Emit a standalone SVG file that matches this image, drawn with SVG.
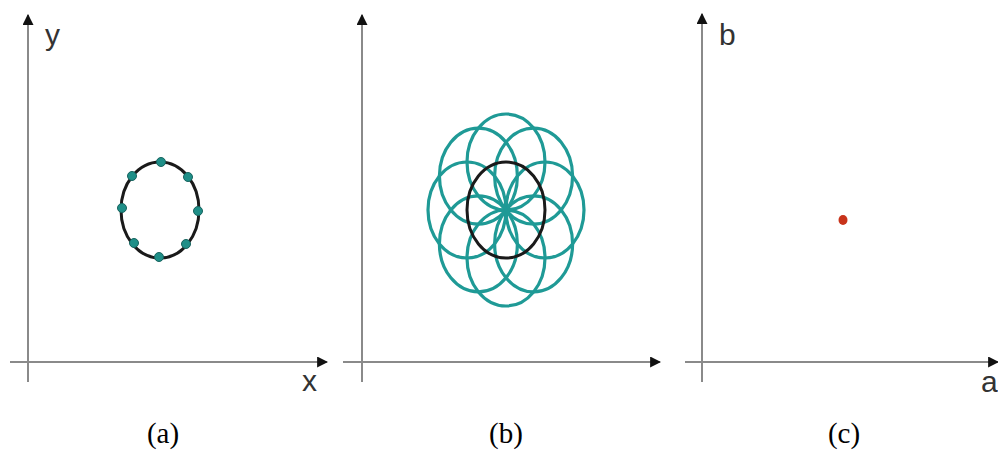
<svg xmlns="http://www.w3.org/2000/svg" width="998" height="465" viewBox="0 0 998 465">
  <style>
    .axis { stroke: #8a8a8a; stroke-width: 2; fill: none; }
    .lbl { font-family: "Liberation Sans", Arial, sans-serif; font-size: 30px; fill: #333; }
    .cap { font-family: "Liberation Serif", "Times New Roman", serif; font-size: 29px; fill: #000; text-anchor: middle; }
    .teal { stroke: #1f9a96; stroke-width: 3.2; fill: none; }
    .blk { stroke: #1a1a1a; stroke-width: 3; fill: none; }
    .dot { fill: #1f8f88; stroke: #17635e; stroke-width: 1; }
  </style>
  <defs>
    <marker id="arr" viewBox="0 0 10 10" refX="9" refY="5" markerWidth="5.5" markerHeight="5.5" orient="auto" markerUnits="strokeWidth">
      <path d="M0,0 L10,5 L0,10 z" fill="#111"/>
    </marker>
  </defs>
  <rect width="998" height="465" fill="#fff"/>

  <g id="connectors">
    <line class="axis" x1="28" y1="382" x2="28" y2="15" marker-end="url(#arr)"/>
    <line class="axis" x1="10" y1="362" x2="327" y2="362" marker-end="url(#arr)"/>
    <line class="axis" x1="362" y1="382" x2="362" y2="15" marker-end="url(#arr)"/>
    <line class="axis" x1="343" y1="362" x2="660" y2="362" marker-end="url(#arr)"/>
    <line class="axis" x1="702" y1="382" x2="702" y2="14" marker-end="url(#arr)"/>
    <line class="axis" x1="685" y1="362" x2="998" y2="362" marker-end="url(#arr)"/>
  </g>

  <g id="panel-a">
    <text class="lbl" x="45" y="45">y</text>
    <text class="lbl" x="302" y="391">x</text>
    <ellipse class="blk" cx="160" cy="210" rx="39" ry="48"/>
    <circle class="dot" cx="161" cy="162" r="4.5"/>
    <circle class="dot" cx="132" cy="176" r="4.5"/>
    <circle class="dot" cx="188" cy="177" r="4.5"/>
    <circle class="dot" cx="122" cy="208" r="4.5"/>
    <circle class="dot" cx="198" cy="211" r="4.5"/>
    <circle class="dot" cx="134" cy="243" r="4.5"/>
    <circle class="dot" cx="186" cy="244" r="4.5"/>
    <circle class="dot" cx="159" cy="257" r="4.5"/>
  </g>

  <g id="panel-b">
    <ellipse class="teal" cx="545" cy="210" rx="39" ry="48"/>
    <ellipse class="teal" cx="533.6" cy="243.9" rx="39" ry="48"/>
    <ellipse class="teal" cx="506" cy="258" rx="39" ry="48"/>
    <ellipse class="teal" cx="478.4" cy="243.9" rx="39" ry="48"/>
    <ellipse class="teal" cx="467" cy="210" rx="39" ry="48"/>
    <ellipse class="teal" cx="478.4" cy="176.1" rx="39" ry="48"/>
    <ellipse class="teal" cx="506" cy="162" rx="39" ry="48"/>
    <ellipse class="teal" cx="533.6" cy="176.1" rx="39" ry="48"/>
    <ellipse class="blk" cx="506" cy="210" rx="39" ry="48"/>
  </g>

  <g id="panel-c">
    <text class="lbl" x="719" y="45">b</text>
    <text class="lbl" x="981" y="392" font-size="28">a</text>
    <ellipse cx="843" cy="220" rx="4.5" ry="5" fill="#c8331a"/>
  </g>

  <g id="captions">
    <text class="cap" x="163" y="443">(a)</text>
    <text class="cap" x="506" y="443">(b)</text>
    <text class="cap" x="844" y="443">(c)</text>
  </g>
</svg>
